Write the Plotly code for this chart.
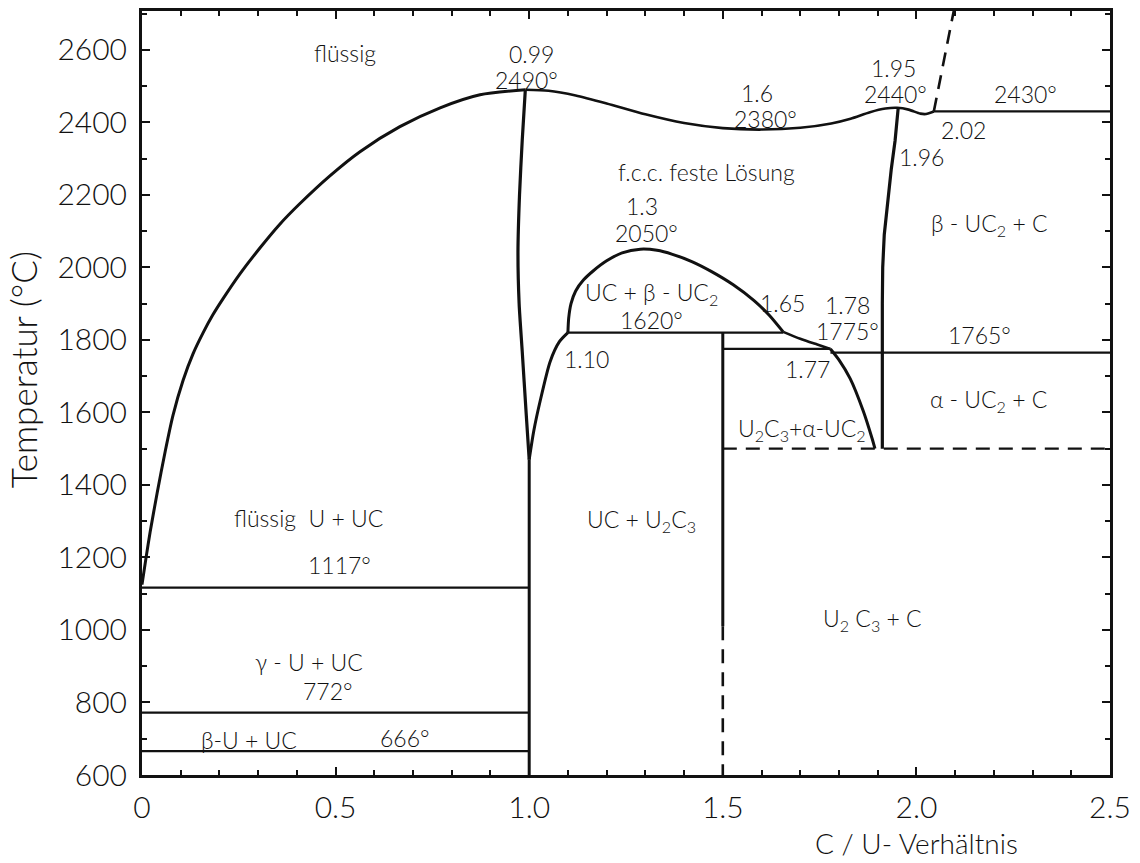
import plotly.graph_objects as go

# ---- phase boundaries of the U–C system (C/U ratio vs. temperature in °C) ----
liq_left_x = [0.0, 0.01, 0.021, 0.039, 0.06, 0.08, 0.106, 0.132, 0.158, 0.183, 0.209, 0.253, 0.305,
              0.356, 0.408, 0.486, 0.563, 0.666, 0.77, 0.873, 0.99]
liq_left_t = [1125, 1196, 1270, 1377, 1493, 1592, 1688, 1762, 1820, 1869, 1913, 1982, 2054,
              2119, 2176, 2253, 2319, 2388, 2440, 2476, 2490]

liq_right_x = [0.99, 1.05, 1.12, 1.2, 1.3, 1.4, 1.5, 1.6, 1.7, 1.78, 1.83, 1.88, 1.92, 1.95, 1.98, 2.01, 2.025, 2.045]
liq_right_t = [2490, 2487, 2474, 2452, 2422, 2398, 2384, 2380, 2385, 2397, 2410, 2428, 2438, 2440, 2435, 2424, 2423, 2430]

uc_left_x = [0.99, 0.982, 0.975, 0.971, 0.974, 0.982, 0.992, 1.0]
uc_left_t = [2490, 2350, 2200, 2042, 1900, 1768, 1600, 1470]

uc_right_x = [1.0, 1.012, 1.028, 1.054, 1.078, 1.10]
uc_right_t = [1470, 1550, 1630, 1740, 1795, 1820]

dome_x = [1.10, 1.102, 1.108, 1.12, 1.14, 1.165, 1.2, 1.24, 1.287, 1.33, 1.37, 1.42, 1.47, 1.527, 1.58, 1.62, 1.656]
dome_t = [1820, 1860, 1900, 1935, 1965, 1990, 2018, 2040, 2050, 2047, 2036, 2016, 1989, 1952, 1909, 1868, 1822]

tail_x = [1.656, 1.70, 1.744, 1.778]
tail_t = [1822, 1803, 1787, 1775]

drop_x = [1.778, 1.80, 1.829, 1.863, 1.885, 1.893]
drop_t = [1775, 1745, 1693, 1603, 1530, 1500]

fcc_right_x = [1.953, 1.945, 1.935, 1.925, 1.917, 1.913, 1.912, 1.912]
fcc_right_t = [2440, 2350, 2270, 2180, 2090, 2000, 1900, 1500]

graphite_x = [2.045, 2.097]
graphite_t = [2430, 2710]

# horizontal isotherms: start, end, temperature
iso_x0 = [0.0, 0.0, 0.0, 1.10, 1.5, 1.778, 2.045]
iso_x1 = [1.0, 1.0, 1.0, 1.656, 1.778, 2.5, 2.5]
iso_t = [1117, 772, 666, 1820, 1775, 1765, 2430]

# vertical boundaries
u2c3_x = 1.5
u2c3_solid_t = [1820, 1010]
u2c3_dash_t = [1010, 600]
uc_line_x = 1.0
uc_line_t = [1470, 600]
alpha_dash_x = [1.5, 2.5]
alpha_dash_t = 1500

# annotations: text, x, temperature
labels = [
    ("flüssig", 0.524, 2592),
    ("0.99", 1.007, 2588),
    ("2490°", 0.994, 2516),
    ("1.6", 1.588, 2482),
    ("2380°", 1.609, 2410),
    ("f.c.c. feste Lösung", 1.457, 2262),
    ("1.3", 1.291, 2168),
    ("2050°", 1.304, 2096),
    ("1.95", 1.94, 2549),
    ("2440°", 1.947, 2477),
    ("2430°", 2.283, 2479),
    ("2.02", 2.122, 2380),
    ("1.96", 2.013, 2303),
    ("β - UC<sub>2</sub> + C", 2.19, 2118),
    ("UC + β - UC<sub>2</sub>", 1.317, 1927),
    ("1620°", 1.315, 1855),
    ("1.65", 1.653, 1902),
    ("1.78", 1.821, 1896),
    ("1775°", 1.821, 1824),
    ("1.10", 1.149, 1748),
    ("1.77", 1.718, 1721),
    ("U<sub>2</sub>C<sub>3</sub>+α-UC<sub>2</sub>", 1.705, 1553),
    ("1765°", 2.164, 1814),
    ("α - UC<sub>2</sub> + C", 2.185, 1634),
    ("flüssig  U + UC", 0.431, 1309),
    ("UC + U<sub>2</sub>C<sub>3</sub>", 1.29, 1302),
    ("1117°", 0.511, 1180),
    ("U<sub>2</sub> C<sub>3</sub> + C", 1.886, 1028),
    ("γ - U + UC", 0.431, 913),
    ("772°", 0.48, 833),
    ("β-U + UC", 0.276, 696),
    ("666°", 0.68, 702),
]

x_ticks = [0, 0.5, 1.0, 1.5, 2.0, 2.5]
x_tick_text = ["0", "0.5", "1.0", "1.5", "2.0", "2.5"]
y_ticks = [600, 800, 1000, 1200, 1400, 1600, 1800, 2000, 2200, 2400, 2600]

FONT = "Lato"
INK = "#111111"

fig = go.Figure()


def curve(x, y, width=3.0, dash="solid", shape="spline"):
    fig.add_trace(go.Scatter(
        x=x, y=y, mode="lines", hoverinfo="skip", showlegend=False,
        line=dict(color=INK, width=width, dash=dash, shape=shape, smoothing=0.7),
    ))


curve(liq_left_x, liq_left_t, 3.0)
curve(liq_right_x, liq_right_t, 2.6)
curve(uc_left_x, uc_left_t, 3.2)
curve(uc_right_x, uc_right_t, 3.0)
curve(dome_x, dome_t, 3.0)
curve(tail_x, tail_t, 2.6)
curve(drop_x, drop_t, 3.0)
curve(fcc_right_x, fcc_right_t, 3.2, shape="linear")
curve(graphite_x, graphite_t, 2.6, dash="14px,9px", shape="linear")

for x0, x1, t in zip(iso_x0, iso_x1, iso_t):
    curve([x0, x1], [t, t], 2.2, shape="linear")

curve([u2c3_x, u2c3_x], u2c3_solid_t, 3.0, shape="linear")
curve([u2c3_x, u2c3_x], u2c3_dash_t, 2.6, dash="14px,9px", shape="linear")
curve([uc_line_x, uc_line_x], uc_line_t, 3.0, shape="linear")
curve(alpha_dash_x, [alpha_dash_t, alpha_dash_t], 2.4, dash="14px,9px", shape="linear")

for text, x, t in labels:
    fig.add_annotation(x=x, y=t, xref="x", yref="y", text=text, showarrow=False,
                       xanchor="center", yanchor="middle",
                       font=dict(family=FONT, size=23, color=INK, weight=300))

fig.add_annotation(x=-0.123, y=0.531, xref="paper", yref="paper", text="Temperatur (°C)",
                   showarrow=False, textangle=-90, xanchor="center", yanchor="middle",
                   font=dict(family=FONT, size=35, color=INK, weight=300))
fig.add_annotation(x=0.80, y=-0.0887, xref="paper", yref="paper", text="C / U- Verhältnis",
                   showarrow=False, xanchor="center", yanchor="middle",
                   font=dict(family=FONT, size=28, color=INK, weight=300))

axis_common = dict(
    showgrid=False, zeroline=False, showline=True, linewidth=3, linecolor=INK,
    mirror="allticks", ticks="inside", tickwidth=2, tickcolor=INK, ticklen=8,
    tickfont=dict(family=FONT, size=30, color=INK, weight=300),
)

fig.update_xaxes(range=[0, 2.5], tickvals=x_ticks, ticktext=x_tick_text,
                 minor=dict(dtick=0.1, ticks="inside", ticklen=5, tickwidth=2, tickcolor=INK),
                 ticklabelstandoff=4, **axis_common)
fig.update_yaxes(range=[600, 2707], tickvals=y_ticks,
                 minor=dict(dtick=100, tick0=600, ticks="inside", ticklen=5, tickwidth=2, tickcolor=INK),
                 ticklabelstandoff=6, **axis_common)

fig.update_layout(
    width=1140, height=863, autosize=False,
    margin=dict(l=142, r=30, t=8, b=88),
    paper_bgcolor="white", plot_bgcolor="white",
)

fig.write_html("out.html")
